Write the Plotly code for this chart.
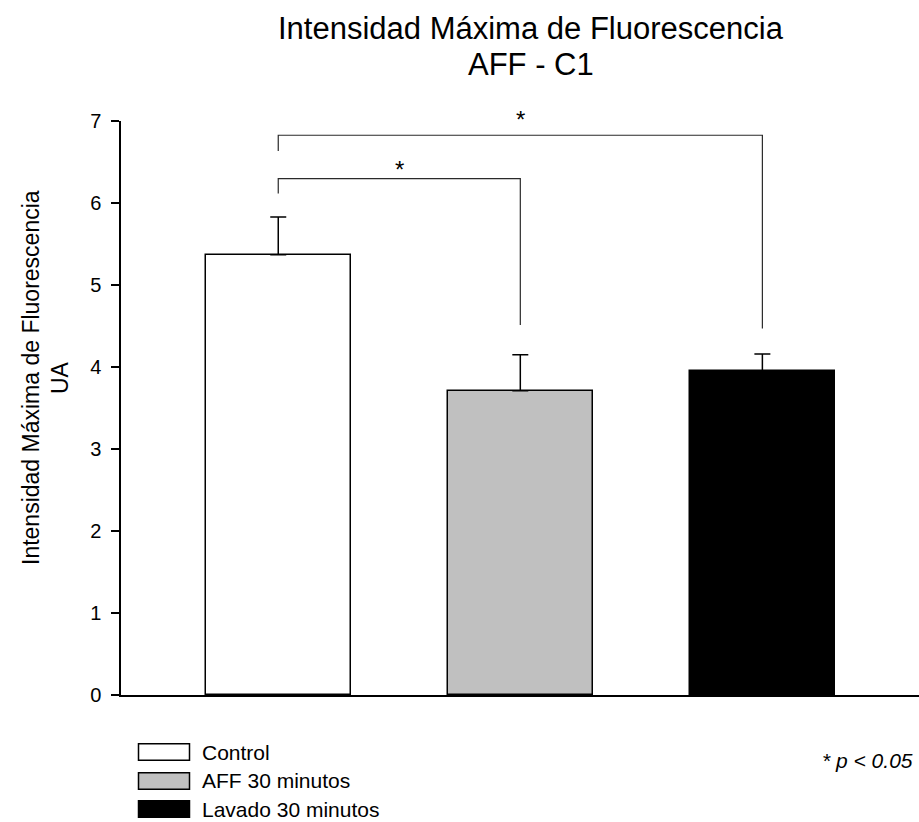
import plotly.graph_objects as go

# Data
categories = ["Control", "AFF 30 minutos", "Lavado 30 minutos"]
means = [5.37, 3.71, 3.95]
sem = [0.46, 0.44, 0.21]
fill_colors = ["#ffffff", "#c0c0c0", "#000000"]

# Significance brackets: (left group, right group, left foot, top, right foot)
brackets = [
    (0, 1, 6.115, 6.298, 4.513),
    (0, 2, 6.635, 6.826, 4.469),
]
star_levels = [6.41, 7.02]
Y_MAX = 7

W, H = 919, 822
ML, MR, MT, MB = 121, 0, 121, 127
FONT = "Arial, Liberation Sans, sans-serif"


def px(x):
    return (x - ML) / (W - ML - MR)


def py(y):
    return (H - MB - y) / (H - MT - MB)


xpos = list(range(len(categories)))

fig = go.Figure()

fig.add_trace(go.Bar(
    x=xpos,
    y=means,
    width=0.6,
    marker=dict(color=fill_colors, line=dict(color="#000000", width=1.5)),
    error_y=dict(type="data", array=sem, arrayminus=[0] * len(sem),
                 symmetric=False, color="#000000", thickness=1.5, width=8),
    showlegend=False,
    hoverinfo="skip",
))

for (a, b, lf, top, rf) in brackets:
    fig.add_trace(go.Scatter(
        x=[xpos[a], xpos[a], xpos[b], xpos[b]],
        y=[lf, top, top, rf],
        mode="lines",
        line=dict(color="#2a2a2a", width=1.2),
        showlegend=False,
        hoverinfo="skip",
        cliponaxis=False,
    ))

# Stars above the brackets (paper y so they may sit above the axis top)
for (a, b, *_), lvl in zip(brackets, star_levels):
    fig.add_annotation(x=(xpos[a] + xpos[b]) / 2, y=lvl / Y_MAX,
                       xref="x", yref="paper",
                       text="*", showarrow=False, xanchor="center", yanchor="middle",
                       font=dict(family=FONT, size=24, color="#000"))

# Title
fig.add_annotation(x=px(531), y=py(28), xref="paper", yref="paper",
                   text="Intensidad Máxima de Fluorescencia", showarrow=False,
                   xanchor="center", yanchor="middle",
                   font=dict(family=FONT, size=31, color="#000"))
fig.add_annotation(x=px(531), y=py(64), xref="paper", yref="paper",
                   text="AFF - C1", showarrow=False,
                   xanchor="center", yanchor="middle",
                   font=dict(family=FONT, size=31, color="#000"))

# Y axis title (two lines)
fig.add_annotation(x=px(31), y=py(378), xref="paper", yref="paper",
                   text="Intensidad Máxima de Fluorescencia", textangle=-90,
                   xanchor="center", yanchor="middle",
                   showarrow=False, font=dict(family=FONT, size=23, color="#000"))
fig.add_annotation(x=px(60), y=py(378), xref="paper", yref="paper",
                   text="UA", textangle=-90,
                   xanchor="center", yanchor="middle",
                   showarrow=False, font=dict(family=FONT, size=23, color="#000"))

# Legend
legend_rows = [752, 781, 809]
for name, col, yc in zip(categories, fill_colors, legend_rows):
    fig.add_shape(type="rect", xref="paper", yref="paper",
                  x0=px(138.5), x1=px(189.5), y0=py(yc - 8.3), y1=py(yc + 8.3),
                  fillcolor=col, line=dict(color="#000", width=1.5))
    fig.add_annotation(x=px(200), y=py(yc), xref="paper", yref="paper",
                       text=name, showarrow=False, xanchor="left", yanchor="middle",
                       font=dict(family=FONT, size=21, color="#000"))

fig.add_annotation(x=px(915), y=py(760), xref="paper", yref="paper",
                   text="* p &lt; 0.05", showarrow=False,
                   xanchor="right", yanchor="middle",
                   font=dict(family=FONT, size=21, color="#000", style="italic"))

fig.update_layout(
    width=W, height=H,
    margin=dict(l=ML, r=MR, t=MT, b=MB, pad=0),
    paper_bgcolor="#ffffff", plot_bgcolor="#ffffff",
    xaxis=dict(range=[-0.6496, 2.647], showline=True, linecolor="#000",
               linewidth=1.5, showgrid=False, zeroline=False,
               showticklabels=False, ticks=""),
    yaxis=dict(range=[0, Y_MAX], showline=True, linecolor="#000", linewidth=1.5,
               showgrid=False, zeroline=False, ticks="outside", ticklen=8,
               tickwidth=1.5, tickcolor="#000", dtick=1,
               tickfont=dict(family=FONT, size=20, color="#000"),
               ticklabelstandoff=6),
    bargap=0,
)

fig.write_html("out.html")
